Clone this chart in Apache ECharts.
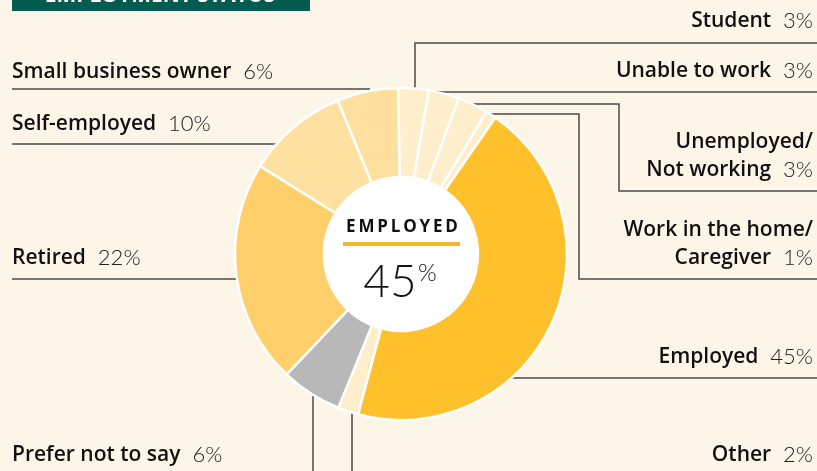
<!DOCTYPE html>
<html>
<head>
<meta charset="utf-8">
<script src="https://cdn.jsdelivr.net/npm/echarts@6/dist/echarts.min.js"></script>
<style>
  html, body { margin: 0; padding: 0; background: #fdf5e8; }
  #chart { width: 817px; height: 471px; }
</style>
</head>
<body>
<div id="chart"></div>
<script>
// 数据
var categories = ['Student', 'Unable to work', 'Unemployed/\nNot working', 'Work in the home/\nCaregiver',
  'Employed', 'Other', 'Prefer not to say', 'Retired', 'Self-employed', 'Small business owner'];
var shares = [3, 3, 3, 1, 45, 2, 6, 22, 10, 6];
var sliceColors = ['#feeecb', '#feeecb', '#feeecb', '#feeecb', '#fec12b', '#feeecb', '#b8b8b8', '#fecf6b', '#fee0a0', '#fedf9d'];

// 标签位置和引线 (像素)
var labelSpots = [
  { x: 813, y: 21, align: 'right', pts: [[415, 89], [415, 43], [817, 43]] },
  { x: 813, y: 71, align: 'right', pts: [[432, 92], [817, 92]] },
  { x: 813, y: 156, align: 'right', pts: [[470, 104], [619, 104], [619, 191], [817, 191]] },
  { x: 813, y: 244, align: 'right', pts: [[488, 114], [579, 114], [579, 279], [817, 279]] },
  { x: 813, y: 357, align: 'right', pts: [[510, 378], [817, 378]] },
  { x: 813, y: 455, align: 'right', pts: [[352, 412], [352, 480]] },
  { x: 12, y: 455, align: 'left', pts: [[313, 394], [313, 480]] },
  { x: 12, y: 258, align: 'left', pts: [[237, 279], [12, 279]] },
  { x: 12, y: 124, align: 'left', pts: [[276, 144], [12, 144]] },
  { x: 12, y: 72, align: 'left', pts: [[370, 89], [12, 89]] }
];

var chart = echarts.init(document.getElementById('chart'));

var option = {
  backgroundColor: '#fdf5e8',
  animation: false,
  graphic: [
    { type: 'rect', shape: { x: 12, y: 0, width: 298, height: 11 }, style: { fill: '#035c4f' } },
    { type: 'text', x: 160, y: 7, style: { text: 'EMPLOYMENT STATUS', fill: '#ffffff', font: 'bold 21px "Open Sans"',
        textAlign: 'center', textVerticalAlign: 'bottom' } },
    { type: 'circle', shape: { cx: 401, cy: 254, r: 77 }, style: { fill: '#ffffff' }, z: 0 },
    { type: 'text', x: 402, y: 227, z: 10, style: { text: 'E\u2009M\u2009P\u2009L\u2009O\u2009Y\u2009E\u2009D', fill: '#111111',
        font: 'bold 17px "Open Sans"', textAlign: 'center', textVerticalAlign: 'middle' } },
    { type: 'rect', z: 10, shape: { x: 343, y: 242, width: 117, height: 4 }, style: { fill: '#f6b62a' } },
    { type: 'text', x: 390, y: 282, z: 10, style: { text: '45', fill: '#111111', font: '300 46px Lato',
        textAlign: 'center', textVerticalAlign: 'middle' } },
    { type: 'text', x: 418, y: 273, z: 10, style: { text: '%', fill: '#111111', font: '300 24px Lato',
        textAlign: 'left', textVerticalAlign: 'middle' } }
  ],
  series: [{
    type: 'pie',
    center: [401, 254],
    radius: [77, 166],
    startAngle: 91,
    clockwise: true,
    avoidLabelOverlap: false,
    itemStyle: { borderColor: '#ffffff', borderWidth: 2.5 },
    label: {
      show: true,
      formatter: function (p) {
        var lines = categories[p.dataIndex].split('\n');
        var last = lines.pop();
        var out = lines.map(function (l) { return '{n|' + l + '}'; });
        out.push('{n|' + last + '}{v|  ' + shares[p.dataIndex] + '%}');
        return out.join('\n');
      },
      rich: {
        n: { fontFamily: 'Open Sans', fontWeight: 600, fontSize: 21, color: '#111111', lineHeight: 28 },
        v: { fontFamily: 'Lato', fontWeight: 300, fontSize: 22, color: '#222222', lineHeight: 28 }
      }
    },
    labelLine: { show: true, lineStyle: { color: '#4a4a4a', width: 1.5 } },
    labelLayout: function (params) {
      var s = labelSpots[params.dataIndex];
      return {
        x: s.x, y: s.y, align: s.align, verticalAlign: 'middle',
        labelLinePoints: s.pts
      };
    },
    emphasis: { disabled: true },
    data: categories.map(function (c, i) {
      return { name: c, value: shares[i], itemStyle: { color: sliceColors[i] } };
    })
  }]
};

chart.setOption(option);
</script>
</body>
</html>
